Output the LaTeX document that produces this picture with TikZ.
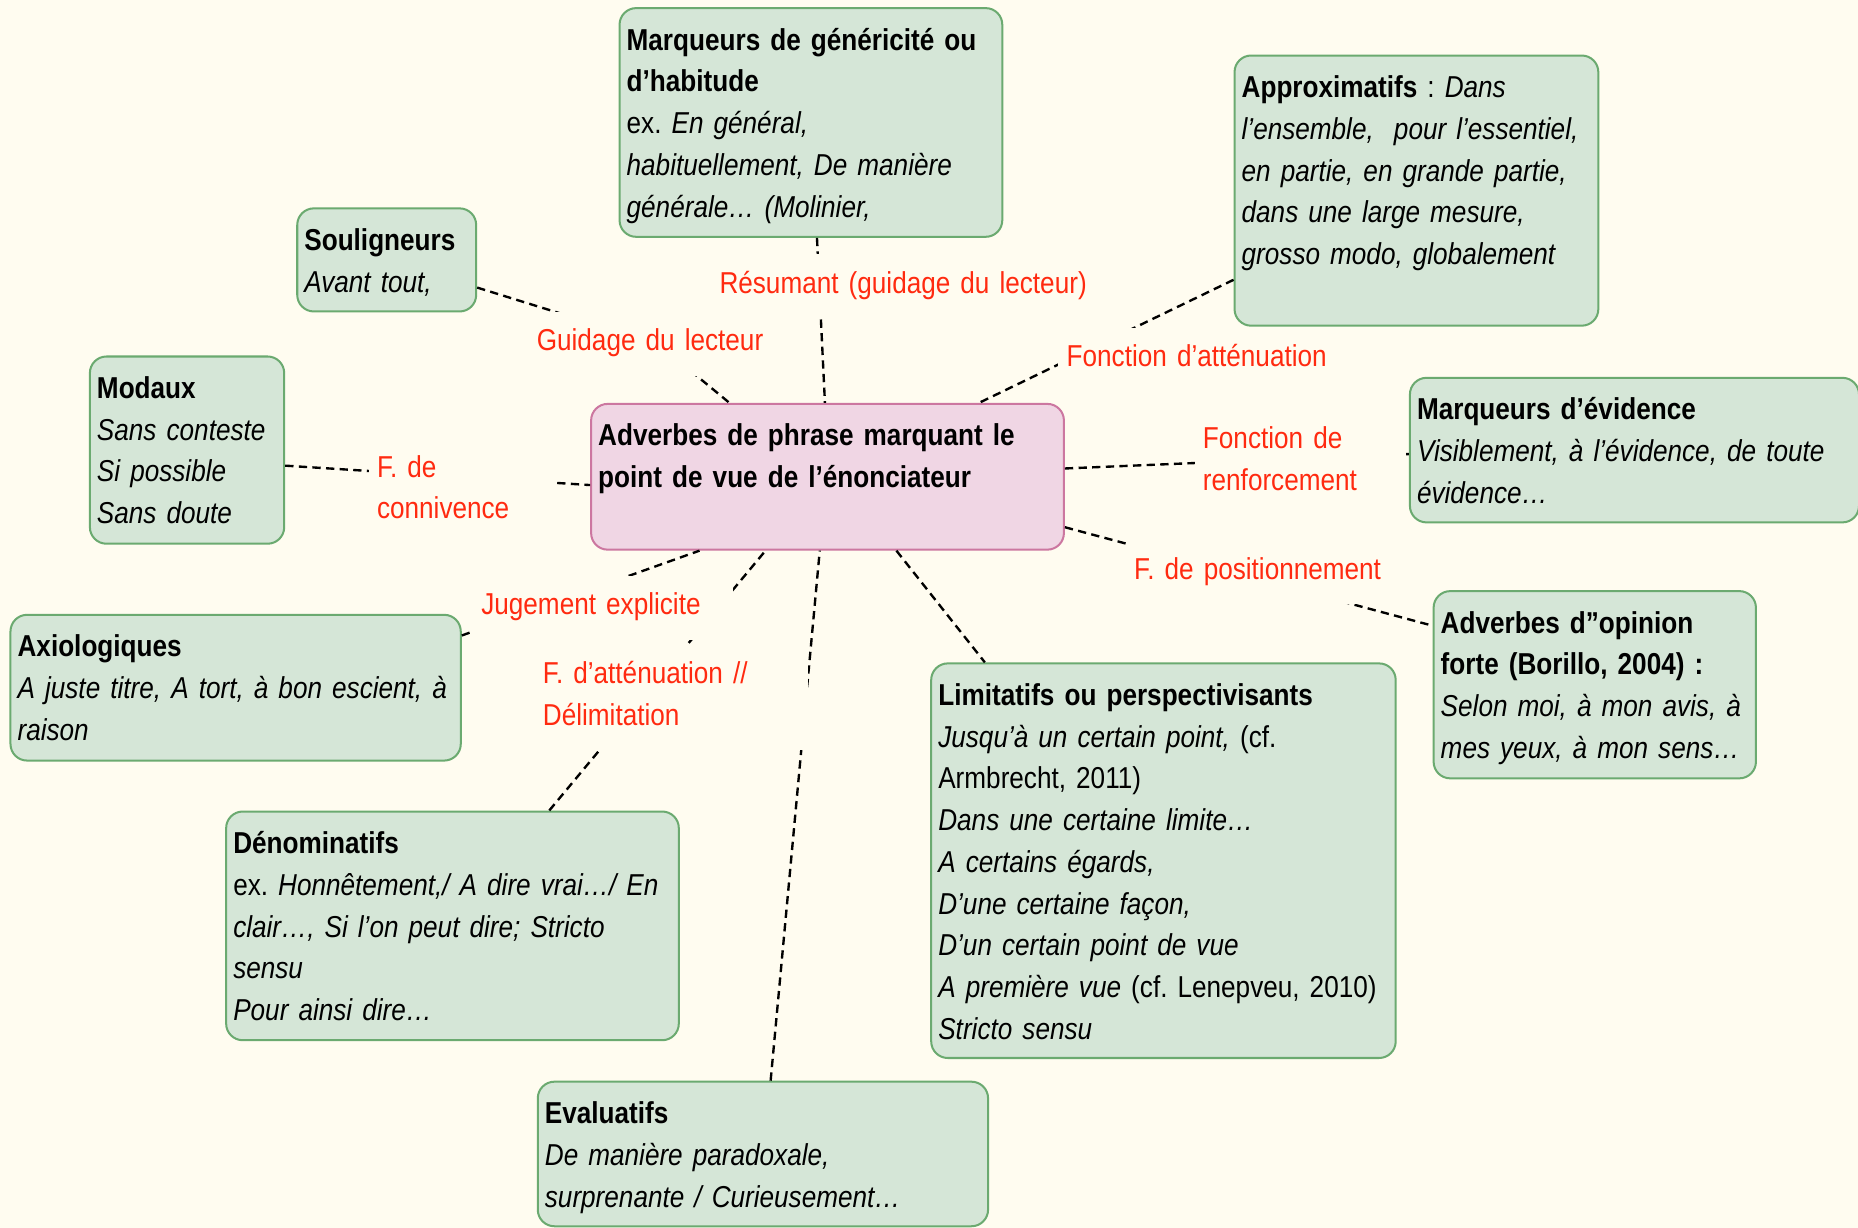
\documentclass[tikz,border=0pt]{standalone}
\usepackage{fontspec}
\setmainfont{Liberation Sans}[FakeStretch=0.865]
\usepackage{tikz}
\definecolor{fond}{RGB}{255,252,240}
\definecolor{vertfond}{RGB}{213,230,215}
\definecolor{vertbord}{RGB}{107,170,112}
\definecolor{rosefond}{RGB}{240,214,228}
\definecolor{rosebord}{RGB}{204,119,160}
\definecolor{rougelbl}{RGB}{255,42,16}
\newcommand{\boxfont}{\fontsize{25.5pt}{35.2pt}\selectfont\frenchspacing\spaceskip=5.8pt plus 1pt minus 1pt\relax}

\begin{document}
\begin{tikzpicture}[x=1pt, y=-1pt,
    bloc/.style={draw=vertbord, fill=vertfond, line width=1.7pt, rounded corners=14pt, anchor=north west, align=left, font=\boxfont, inner xsep=6pt, inner ysep=16.5pt, text height=19pt},
    centre/.style={bloc, draw=rosebord, fill=rosefond},
    lien/.style={line width=2pt, dash pattern=on 7pt off 4.5pt},
    etiq/.style={text=rougelbl, fill=fond, anchor=north west, align=left, font=\boxfont, inner xsep=7pt, inner ysep=14pt, text height=19pt, text depth=7pt}]
        % Fond
        \useasboundingbox (0,0) rectangle (1568,1036);
        \clip (0,0) rectangle (1568,1036);
        \fill [fond] (0,0) rectangle (1568,1036);

        % Centre
        \node [centre, text width=387pt, text depth=71pt] (cen) at (498,340) {\textbf{Adverbes de phrase marquant le}\\\textbf{point de vue de l’énonciateur}};

        % Blocs
        \node [bloc, text width=311pt, text depth=141pt] (marq) at (522,6) {\textbf{Marqueurs de généricité ou}\\\textbf{d’habitude}\\ex. \textit{En général,}\\\textit{habituellement, De manière}\\\textit{générale… (Molinier,}};
        \node [bloc, text width=295pt, text depth=176pt] (approx) at (1041,46) {\textbf{Approximatifs} : \textit{Dans}\\\textit{l’ensemble,\ \ pour l’essentiel,}\\\textit{en partie, en grande partie,}\\\textit{dans une large mesure,}\\\textit{grosso modo, globalement}};
        \node [bloc, text width=139pt, text depth=35pt] (soul) at (250,175) {\textbf{Souligneurs}\\\textit{Avant tout,}};
        \node [bloc, text width=152pt, text depth=106pt] (modaux) at (75,300) {\textbf{Modaux}\\\textit{Sans conteste}\\\textit{Si possible}\\\textit{Sans doute}};
        \node [bloc, text width=367pt, text depth=70pt] (evid) at (1189,318) {\textbf{Marqueurs d’évidence}\\\textit{Visiblement, à l’évidence, de toute}\\\textit{évidence…}};
        \node [bloc, text width=368pt, text depth=71pt] (axio) at (8,518) {\textbf{Axiologiques}\\\textit{A juste titre, A tort, à bon escient, à}\\\textit{raison}};
        \node [bloc, text width=260pt, text depth=106pt] (opin) at (1209,498) {\textbf{Adverbes d”opinion}\\\textbf{forte (Borillo, 2004) :}\\\textit{Selon moi, à mon avis, à}\\\textit{mes yeux, à mon sens…}};
        \node [bloc, text width=380pt, text depth=281pt] (limit) at (785,559) {\textbf{Limitatifs ou perspectivisants}\\\textit{Jusqu’à un certain point,} (cf.\\Armbrecht, 2011)\\\textit{Dans une certaine limite…}\\\textit{A certains égards,}\\\textit{D’une certaine façon,}\\\textit{D’un certain point de vue}\\\textit{A première vue} (cf. Lenepveu, 2010)\\\textit{Stricto sensu}};
        \node [bloc, text width=370pt, text depth=141pt] (denom) at (190,684) {\textbf{Dénominatifs}\\ex. \textit{Honnêtement,/ A dire vrai…/ En}\\\textit{clair…, Si l’on peut dire; Stricto}\\\textit{sensu}\\\textit{Pour ainsi dire…}};
        \node [bloc, text width=368pt, text depth=70pt] (eval) at (453,912) {\textbf{Evaluatifs}\\\textit{De manière paradoxale,}\\\textit{surprenante / Curieusement…}};

        % Liens
        \coordinate (guidpt) at (555,290);
        \draw [lien] (soul.-17) -- (guidpt) -- (cen.143);
        \draw [lien] (marq.-87) -- (cen.92);
        \draw [lien] (approx.206) -- (cen.26);
        \draw [lien] (modaux.-9) -- (cen.182);
        \draw [lien] (cen.2) -- (evid.181);
        \draw [lien] (cen.-12) -- (opin.160);
        \draw [lien] (axio.13) -- (cen.-150);
        \draw [lien] (denom.50) -- (cen.-130);
        \draw [lien] (eval.84) -- (cen.-96);
        \draw [lien] (cen.-47) -- (limit.132);

        % Etiquettes
        \node [etiq, text width=324pt] (res) at (600,214.5) {Résumant (guidage du lecteur)};
        \node [etiq, anchor=center, text width=204pt] (guid) at (guidpt) {Guidage du lecteur};
        \node [etiq, text width=235pt] (fatt) at (893,276.5) {Fonction d’atténuation};
        \node [etiq, text width=145pt, text depth=42.2pt] (conn) at (311,369.5) {F. de\\connivence};
        \node [etiq, text width=164pt, text depth=42.2pt] (renf) at (1008,345.5) {Fonction de\\renforcement};
        \node [etiq, text width=222pt] (posit) at (950,455.5) {F. de positionnement};
        \node [etiq, text width=205pt] (jug) at (399,485.5) {Jugement explicite};
        \node [etiq, text width=217pt, text depth=42.2pt] (delim) at (451,543.5) {F. d’atténuation //\\Délimitation};
\end{tikzpicture}
\end{document}
